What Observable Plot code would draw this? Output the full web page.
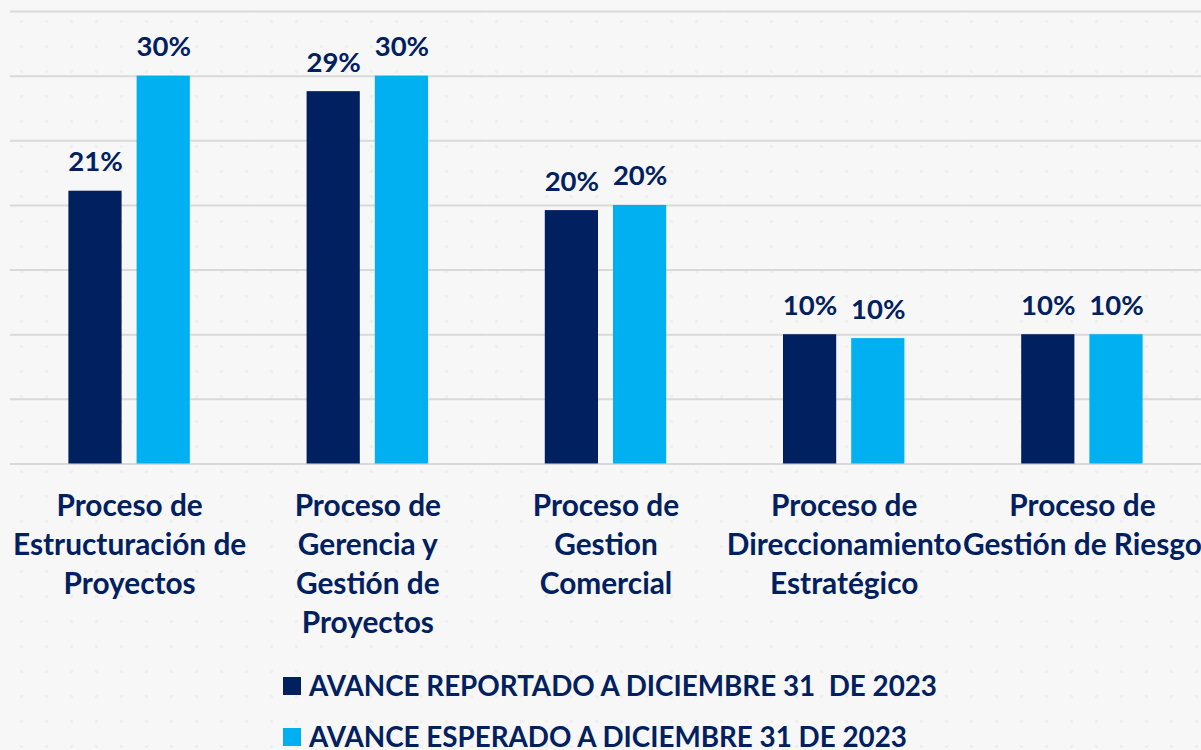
<!DOCTYPE html>
<html>
<head>
<meta charset="utf-8">
<script src="https://cdn.jsdelivr.net/npm/d3@7"></script>
<script src="https://cdn.jsdelivr.net/npm/@observablehq/plot@0.6"></script>
<style>
  html, body { margin: 0; padding: 0; }
  body {
    width: 1201px; height: 750px; overflow: hidden;
    background-color: #f7f7f8;
    background-image: radial-gradient(circle, rgba(0,0,0,0.03) 1.5px, transparent 2px);
    background-size: 25px 25px;
    background-position: 9px 9px;
    font-family: Lato, "Open Sans", sans-serif;
  }
  #chart svg { display: block; }
  #legend { margin-left: 283px; margin-top: 10px; }
  .item { display: flex; align-items: center; height: 51px; font-weight: 700; font-size: 27.8px; line-height: 1; color: #002060; white-space: pre; }
  .sw { width: 18px; height: 18px; margin-right: 8px; }
</style>
</head>
<body>
<div id="chart"></div>
<div id="legend"></div>
<script>
const categories = [
  "Proceso de\nEstructuración de\nProyectos",
  "Proceso de\nGerencia y\nGestión de\nProyectos",
  "Proceso de\nGestion\nComercial",
  "Proceso de\nDireccionamiento\nEstratégico",
  "Proceso de\nGestión de Riesgo"
];
const series = [
  "AVANCE REPORTADO A DICIEMBRE 31  DE 2023",
  "AVANCE ESPERADO A DICIEMBRE 31 DE 2023"
];
const reportado = [0.211, 0.288, 0.196, 0.100, 0.100];
const esperado  = [0.300, 0.300, 0.200, 0.097, 0.100];
const gridTicks = [0, 0.05, 0.10, 0.15, 0.20, 0.25, 0.30, 0.35];
const colors = ["#002060", "#00b0f0"];

const data = [];
categories.forEach((c, i) => {
  data.push({category: c, series: series[0], value: reportado[i]});
  data.push({category: c, series: series[1], value: esperado[i]});
});
const fmt = d3.format(".0%");

const chart = Plot.plot({
  width: 1201,
  height: 650,
  marginTop: 11,
  marginBottom: 186.5,
  marginLeft: 10,
  marginRight: 0,
  style: {background: "transparent", fontFamily: "Lato, sans-serif", color: "#002060", overflow: "visible"},
  fx: {domain: categories, padding: 0, round: false, label: null},
  x: {domain: series, paddingInner: 0.22, paddingOuter: 0.856, round: false, axis: null},
  y: {domain: [0, 0.35], axis: null},
  color: {domain: series, range: colors},
  marks: [
    Plot.ruleY(gridTicks, {y: d => d, stroke: "#d9d9d9", strokeWidth: 2}),
    Plot.barY(data, {fx: "category", x: "series", y: "value", fill: "series"}),
    Plot.text(data, {
      fx: "category", x: "series", y: "value",
      text: d => fmt(d.value),
      lineAnchor: "bottom", dy: -20,
      fontSize: 27.5, fontWeight: 700, fill: "#002060"
    }),
    Plot.axisFx({
      anchor: "bottom", tickSize: 0, tickPadding: 24, label: null,
      fontSize: 29.8, fontWeight: 700, lineHeight: 1.31, fill: "#002060",
      lineAnchor: "top"
    })
  ]
});
document.getElementById("chart").appendChild(chart);

const legend = document.getElementById("legend");
series.forEach((s, i) => {
  const row = document.createElement("div");
  row.className = "item";
  const sw = document.createElement("span");
  sw.className = "sw";
  sw.style.background = colors[i];
  const label = document.createElement("span");
  label.textContent = s;
  row.appendChild(sw);
  row.appendChild(label);
  legend.appendChild(row);
});
</script>
</body>
</html>
